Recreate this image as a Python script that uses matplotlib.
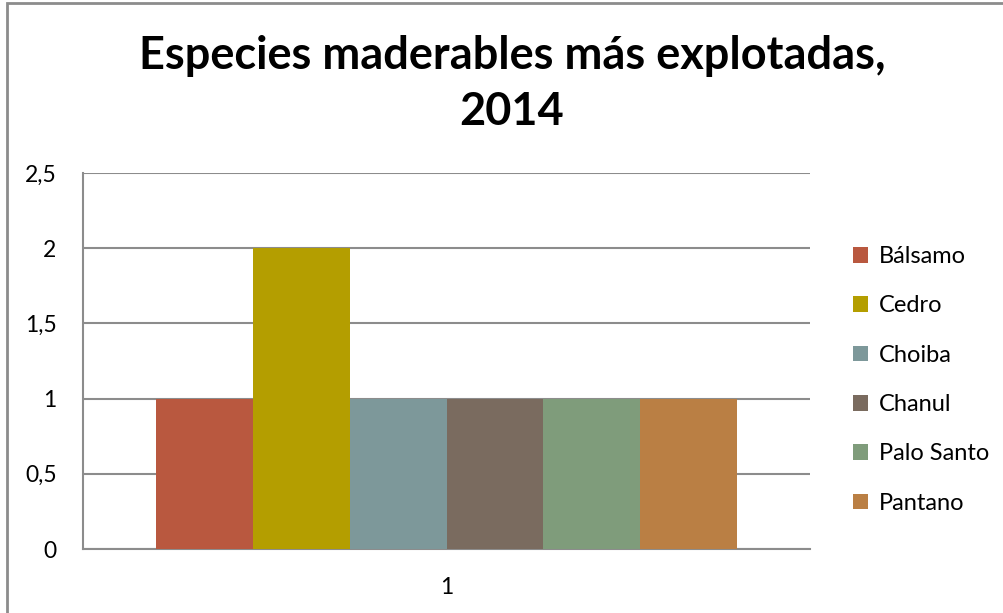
import numpy as np
import matplotlib.pyplot as plt
from matplotlib.patches import Rectangle

plt.rcParams['font.family'] = ['Lato', 'DejaVu Sans']

especies = ['Bálsamo', 'Cedro', 'Choiba', 'Chanul', 'Palo Santo', 'Pantano']
valores = [1, 2, 1, 1, 1, 1]
colores = ['#B9583F', '#B49E00', '#7D989A', '#7A6B5F', '#7F9C7B', '#BA7F44']
categoria = ['1']

W, H = 1004, 613
fig = plt.figure(figsize=(W / 100, H / 100), dpi=100)
# chart border (right and bottom edges fall outside the image)
fig.patches.append(Rectangle((7 / W, -0.1), 1.2, 1.1 - 3 / H, transform=fig.transFigure,
                             fill=False, edgecolor='#8c8c8c', linewidth=2))

ax = fig.add_axes([83 / W, (H - 549) / H, 727 / W, 376 / H])

n = len(especies)
w = 1.0
x = (np.arange(n) - (n - 1) / 2) * w
for xi, v, c, lab in zip(x, valores, colores, especies):
    ax.bar(xi, v, width=w, color=c, label=lab, zorder=3)

ax.set_xlim(-3.75, 3.75)
ax.set_ylim(0, 2.5)
ax.set_yticks([0, 0.5, 1, 1.5, 2, 2.5])
ax.set_yticklabels(['0', '0,5', '1', '1,5', '2', '2,5'])
ax.set_xticks([0])
ax.set_xticklabels(categoria)
ax.tick_params(axis='both', length=0, labelsize=16.5)
ax.tick_params(axis='y', pad=19)
ax.tick_params(axis='x', pad=20)
ax.yaxis.grid(True, color='#8c8c8c', linewidth=1.5, zorder=1)
for s in ['top', 'right']:
    ax.spines[s].set_visible(False)
ax.spines['left'].set_color('#8c8c8c')
ax.spines['bottom'].set_color('#8c8c8c')
ax.spines['left'].set_linewidth(1.5)
ax.spines['bottom'].set_linewidth(1.5)

fig.text(512 / W, 1 - 84 / H, 'Especies maderables más explotadas,\n2014', ha='center',
         va='center', fontsize=32.5, fontweight='bold', linespacing=1.4)

fig.legend(loc='center left', bbox_to_anchor=(853 / W, 1 - 380 / H), frameon=False,
           fontsize=17, handlelength=0.65, handleheight=0.65, handletextpad=0.45,
           labelspacing=1.2, borderpad=0, borderaxespad=0)

fig.savefig('out.png', dpi=100)
